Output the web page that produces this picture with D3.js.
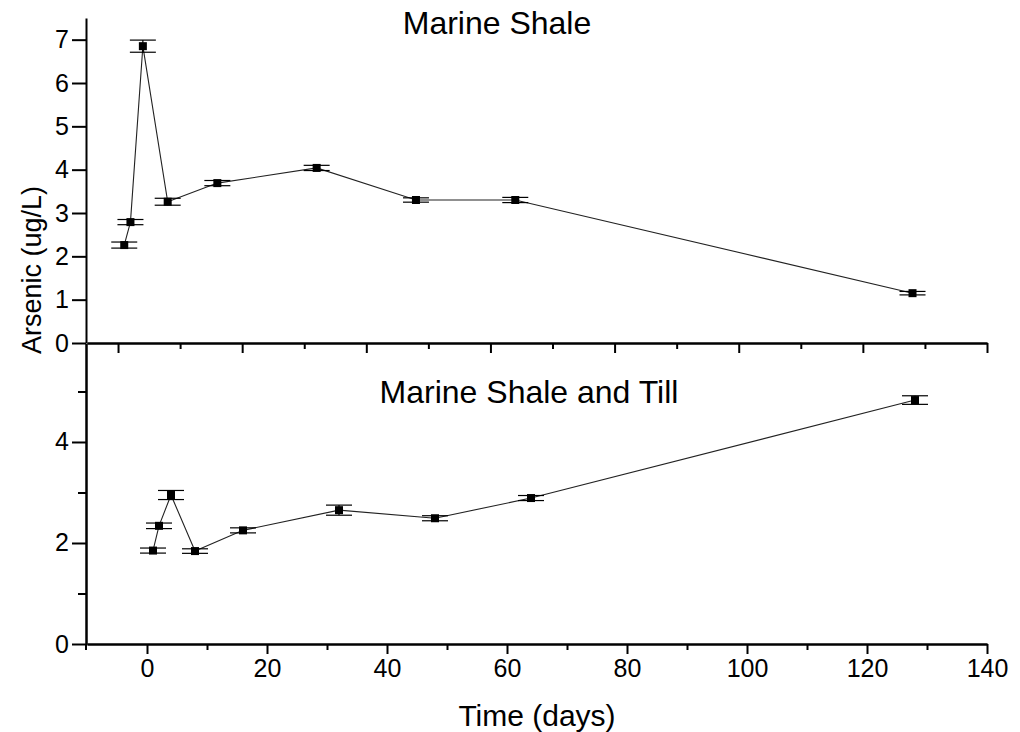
<!DOCTYPE html>
<html>
<head>
<meta charset="utf-8">
<script src="https://cdn.jsdelivr.net/npm/d3@7"></script>
<style>
  body { margin: 0; background: #fff; }
  text { font-family: Arial, "Liberation Sans", sans-serif; fill: #000; }
</style>
</head>
<body>
<div id="chart"></div>
<script>
// sampling days (same for both columns)
const days = [1, 2, 4, 8, 16, 32, 48, 64, 128];

// Marine Shale
const shale = [2.26, 2.79, 6.85, 3.26, 3.69, 4.04, 3.30, 3.30, 1.15];
const shaleErr = [0.07, 0.06, 0.14, 0.08, 0.06, 0.06, 0.05, 0.06, 0.04];

// Marine Shale and Till
const till = [1.85, 2.34, 2.95, 1.84, 2.25, 2.65, 2.49, 2.89, 4.83];
const tillErr = [0.05, 0.055, 0.09, 0.045, 0.05, 0.10, 0.05, 0.05, 0.085];

const xMajor = [0, 20, 40, 60, 80, 100, 120, 140];
const xMinor = [10, 30, 50, 70, 90, 110, 130];
const topYTicks = [0, 1, 2, 3, 4, 5, 6, 7];
const botYMajor = [0, 2, 4];
const botYMinor = [1, 3, 5];

const width = 1020, height = 732;
const left = 87, right = 987;

const svg = d3.select("#chart").append("svg")
    .attr("width", width)
    .attr("height", height);

// each panel has its own x range of days
const xTop = d3.scaleLinear().domain([-5, 140]).range([left, right]);
const xBot = d3.scaleLinear().domain([-10, 140]).range([left, right]);
const yTop = d3.scaleLinear().domain([0, 7.5]).range([343, 18]);
const yBot = d3.scaleLinear().domain([0, 5.95]).range([644, 343.5]);

function styleAxis(g) {
    g.select(".domain").attr("stroke", "#000").attr("stroke-width", 2);
    g.selectAll(".tick line").attr("stroke", "#000").attr("stroke-width", 2);
    g.selectAll(".tick text").attr("font-size", 25).attr("font-family", "Arial, 'Liberation Sans', sans-serif");
}

function panel(x, y, vals, errs, yMajor, yMinor, showXLabels, title, titleX, titleY) {
    // x axis, major + minor ticks
    svg.append("g")
        .attr("transform", `translate(0,${y(0)})`)
        .call(d3.axisBottom(x).tickValues(xMinor).tickSize(6).tickSizeOuter(0).tickFormat(""))
        .call(styleAxis);
    const xa = svg.append("g")
        .attr("transform", `translate(0,${y(0)})`)
        .call(d3.axisBottom(x).tickValues(xMajor).tickSize(10).tickSizeOuter(0)
            .tickFormat(showXLabels ? d3.format("d") : ""))
        .call(styleAxis);
    xa.selectAll(".tick text").attr("dy", "0.8em");

    // y axis
    if (yMinor.length) {
        svg.append("g")
            .attr("transform", `translate(${left - 1},0)`)
            .call(d3.axisLeft(y).tickValues(yMinor).tickSize(8).tickSizeOuter(0).tickFormat(""))
            .call(styleAxis);
    }
    svg.append("g")
        .attr("transform", `translate(${left - 1},0)`)
        .call(d3.axisLeft(y).tickValues(yMajor).tickSize(14).tickSizeOuter(0).tickFormat(d3.format("d")))
        .call(styleAxis);

    const pts = days.map((d, i) => ({ day: d, v: vals[i], e: errs[i] }));

    const line = d3.line()
        .x(d => x(d.day))
        .y(d => y(d.v));

    svg.append("path")
        .datum(pts)
        .attr("fill", "none")
        .attr("stroke", "#222")
        .attr("stroke-width", 1.1)
        .attr("d", line);

    const eb = svg.append("g").attr("stroke", "#000").attr("stroke-width", 1.2);
    pts.forEach(p => {
        eb.append("line")
            .attr("x1", x(p.day)).attr("x2", x(p.day))
            .attr("y1", y(p.v - p.e)).attr("y2", y(p.v + p.e));
        [p.v - p.e, p.v + p.e].forEach(v => {
            eb.append("line")
                .attr("x1", x(p.day) - 13).attr("x2", x(p.day) + 13)
                .attr("y1", y(v)).attr("y2", y(v));
        });
    });

    svg.selectAll(null)
        .data(pts)
        .enter().append("rect")
        .attr("x", d => x(d.day) - 4)
        .attr("y", d => y(d.v) - 4)
        .attr("width", 8)
        .attr("height", 8)
        .attr("fill", "#000");

    svg.append("text")
        .attr("x", titleX)
        .attr("y", titleY)
        .attr("text-anchor", "middle")
        .attr("font-size", 32)
        .text(title);
}

panel(xTop, yTop, shale, shaleErr, topYTicks, [], false, "Marine Shale", 497, 34);
panel(xBot, yBot, till, tillErr, botYMajor, botYMinor, true, "Marine Shale and Till", 529, 403);

// left axis line runs a bit below the bottom x axis
svg.append("line")
    .attr("x1", left - 1).attr("x2", left - 1)
    .attr("y1", yBot(0)).attr("y2", yBot(0) + 6)
    .attr("stroke", "#000").attr("stroke-width", 2);

svg.append("text")
    .attr("x", (left + right) / 2)
    .attr("y", 726)
    .attr("text-anchor", "middle")
    .attr("font-size", 30)
    .text("Time (days)");

svg.append("text")
    .attr("transform", "translate(41,270) rotate(-90)")
    .attr("text-anchor", "middle")
    .attr("font-size", 27)
    .text("Arsenic (ug/L)");
</script>
</body>
</html>
